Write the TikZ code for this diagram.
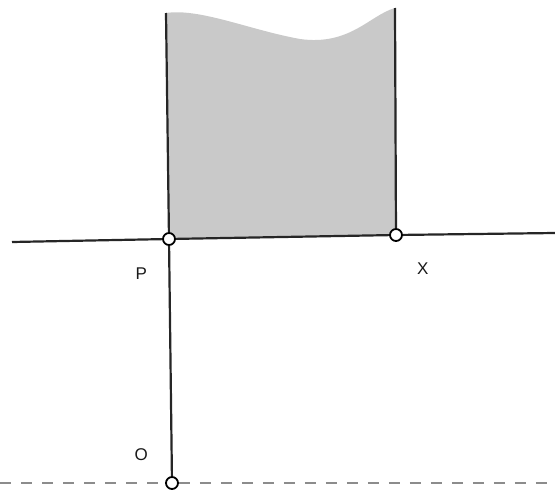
\documentclass[tikz,border=0pt]{standalone}
\usepackage{fontspec}
\setmainfont{Liberation Sans}
\usetikzlibrary{positioning}

\begin{document}
\begin{tikzpicture}[
  x=1pt, y=-1pt,
  font=\fontsize{17}{19}\selectfont,
  edge/.style={line width=2.2pt, draw=black!85},
  pin/.style={circle, draw=black, line width=1.8pt, fill=white,
    minimum size=12pt, inner sep=0pt},
  base/.style={dash pattern=on 11pt off 10pt, line width=1.3pt, draw=black!45},
  water/.style={fill=black!21},
  tag/.style={inner sep=0pt, text=black!90}
]
  \useasboundingbox (0,0) rectangle (555,490);

  \coordinate (lt) at (166,13);
  \coordinate (rt) at (395,8);
  \coordinate (wl) at (12,242);
  \coordinate (wr) at (555,233);
  \coordinate (bl) at (0,483);
  \coordinate (br) at (555,483);

  % shaded block above the line
  \fill[water] (lt) .. controls (200,8) and (250,30) .. (300,39)
    .. controls (350,46) and (370,15) .. (rt) -- (396,235) -- (169,239) -- cycle;

  \node[pin] (P) at (169,239) {};
  \node[pin] (X) at (396,235) {};
  \node[pin] (O) at (172,483) {};

  \node[tag, below left=24pt and 17pt of P, on grid] (pP) {P};
  \node[tag, below right=23pt and 16pt of X, on grid] (pX) {X};
  \node[tag, above left=17pt and 19pt of O, on grid] (pO) {O};

  \draw[edge] (lt) -- (P);
  \draw[edge] (rt) -- (X);
  \draw[edge] (wl) -- (P);
  \draw[edge] (P) -- (X);
  \draw[edge] (X) -- (wr);
  \draw[edge] (P) -- (O);
  \draw[base] (bl) -- (O);
  \draw[base] (O) -- (br);
\end{tikzpicture}
\end{document}
